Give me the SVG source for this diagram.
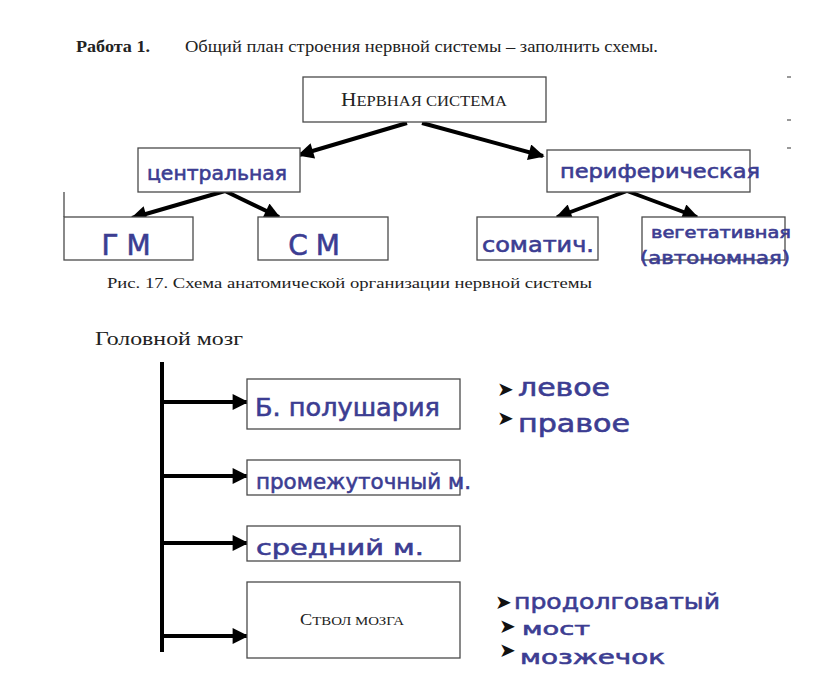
<svg xmlns="http://www.w3.org/2000/svg" width="819" height="688" viewBox="0 0 819 688">
<defs>
<marker id="ah" viewBox="0 0 10 10" refX="9" refY="5" markerWidth="4.3" markerHeight="4" orient="auto" markerUnits="strokeWidth">
<path d="M0,0 L10,5 L0,10 Z" fill="#000"/>
</marker>
<style>
.box{fill:#fff;stroke:#4a4a4a;stroke-width:1.3}
.conn{stroke:#000;stroke-width:4;fill:none;marker-end:url(#ah)}
.serif{font-family:"Liberation Serif","Times New Roman",serif;fill:#222}
.hand{font-family:"DejaVu Sans","Noto Sans",sans-serif;fill:#3c3d92;stroke:#3c3d92;stroke-width:0.6}
.bul{font-family:"DejaVu Sans",sans-serif;fill:#111;font-size:20px}
</style>
</defs>
<rect width="819" height="688" fill="#fff"/>

<text class="serif" x="76" y="52" font-size="17" font-weight="bold" textLength="74" lengthAdjust="spacingAndGlyphs">Работа 1.</text>
<text class="serif" x="185" y="52" font-size="16" textLength="473" lengthAdjust="spacingAndGlyphs">Общий план строения нервной системы – заполнить схемы.</text>

<g stroke="#555" stroke-width="1.2">
<line x1="787" y1="77" x2="791" y2="77"/>
<line x1="787" y1="120" x2="791" y2="120"/>
<line x1="787" y1="148" x2="791" y2="148"/>
</g>

<g id="connectors">
<line class="conn" x1="407" y1="123" x2="299" y2="155"/>
<line class="conn" x1="422" y1="123" x2="543" y2="156"/>
<line class="conn" x1="225" y1="191" x2="132" y2="218"/>
<line class="conn" x1="225" y1="191" x2="279" y2="217"/>
<line class="conn" x1="627" y1="191" x2="557" y2="217"/>
<line class="conn" x1="627" y1="191" x2="697" y2="217"/>
<line x1="64" y1="192" x2="64" y2="217" stroke="#4a4a4a" stroke-width="1.3"/>
<line x1="162" y1="362" x2="162" y2="652" stroke="#000" stroke-width="4"/>
<line class="conn" x1="162" y1="402" x2="247" y2="402"/>
<line class="conn" x1="162" y1="476" x2="247" y2="476"/>
<line class="conn" x1="162" y1="543" x2="247" y2="543"/>
<line class="conn" x1="162" y1="636" x2="247" y2="636"/>
</g>

<g id="n-nerv">
<rect class="box" x="303" y="77" width="243" height="45"/>
<text class="serif" x="424" y="106" text-anchor="middle" font-size="14" textLength="166" lengthAdjust="spacingAndGlyphs"><tspan font-size="18">Н</tspan>ЕРВНАЯ СИСТЕМА</text>
</g>

<g id="n-central">
<rect class="box" x="138" y="148" width="162" height="44"/>
<text class="hand" x="147" y="180" font-size="20" textLength="140" lengthAdjust="spacingAndGlyphs">центральная</text>
</g>

<g id="n-periph">
<rect class="box" x="547" y="150" width="203" height="42"/>
<text class="hand" x="560" y="178" font-size="20" textLength="200" lengthAdjust="spacingAndGlyphs">периферическая</text>
</g>

<g id="n-gm">
<rect class="box" x="64" y="217" width="129" height="43"/>
<text class="hand" x="130" y="255" font-size="28" text-anchor="middle" letter-spacing="8">ГМ</text>
</g>

<g id="n-sm">
<rect class="box" x="258" y="217" width="130" height="43"/>
<text class="hand" x="318" y="255" font-size="28" text-anchor="middle" letter-spacing="8">СМ</text>
</g>

<g id="n-somat">
<rect class="box" x="477" y="217" width="121" height="43"/>
<text class="hand" x="482" y="252" font-size="21" textLength="112" lengthAdjust="spacingAndGlyphs">соматич.</text>
</g>

<g id="n-veget">
<rect class="box" x="642" y="217" width="143" height="43"/>
<text class="hand" x="651" y="238" font-size="15" textLength="140" lengthAdjust="spacingAndGlyphs">вегетативная</text>
<text class="hand" x="640" y="264" font-size="17" textLength="150" lengthAdjust="spacingAndGlyphs">(автономная)</text>
</g>

<text class="serif" x="107" y="288" font-size="15" textLength="485" lengthAdjust="spacingAndGlyphs">Рис. 17. Схема анатомической организации нервной системы</text>

<text class="serif" x="95" y="345" font-size="19" textLength="148" lengthAdjust="spacingAndGlyphs">Головной мозг</text>

<g id="n-polush">
<rect class="box" x="247" y="379" width="213" height="50"/>
<text class="hand" x="255" y="416" font-size="25" textLength="185" lengthAdjust="spacingAndGlyphs">Б. полушария</text>
</g>

<g id="n-promezh">
<rect class="box" x="247" y="460" width="213" height="35"/>
<text class="hand" x="256" y="489" font-size="22" textLength="215" lengthAdjust="spacingAndGlyphs">промежуточный м.</text>
</g>

<g id="n-sredn">
<rect class="box" x="247" y="526" width="213" height="35"/>
<text class="hand" x="256" y="555" font-size="22" textLength="168" lengthAdjust="spacingAndGlyphs">средний  м.</text>
</g>

<g id="n-stvol">
<rect class="box" x="247" y="582" width="213" height="76"/>
<text class="serif" x="352" y="625" text-anchor="middle" font-size="13" textLength="104" lengthAdjust="spacingAndGlyphs"><tspan font-size="16">С</tspan>ТВОЛ МОЗГА</text>
</g>

<g id="notes-bp">
<text class="bul" x="497" y="396">➤</text>
<text class="hand" x="518" y="396" font-size="24" textLength="92" lengthAdjust="spacingAndGlyphs">левое</text>
<text class="bul" x="497" y="425">➤</text>
<text class="hand" x="518" y="432" font-size="24" textLength="112" lengthAdjust="spacingAndGlyphs">правое</text>
</g>

<g id="notes-stvol">
<text class="bul" x="495" y="609">➤</text>
<text class="hand" x="514" y="609" font-size="22" textLength="206" lengthAdjust="spacingAndGlyphs">продолговатый</text>
<text class="bul" x="499" y="633">➤</text>
<text class="hand" x="522" y="635" font-size="18" textLength="68" lengthAdjust="spacingAndGlyphs">мост</text>
<text class="bul" x="499" y="657">➤</text>
<text class="hand" x="520" y="664" font-size="20" textLength="145" lengthAdjust="spacingAndGlyphs">мозжечок</text>
</g>
</svg>
